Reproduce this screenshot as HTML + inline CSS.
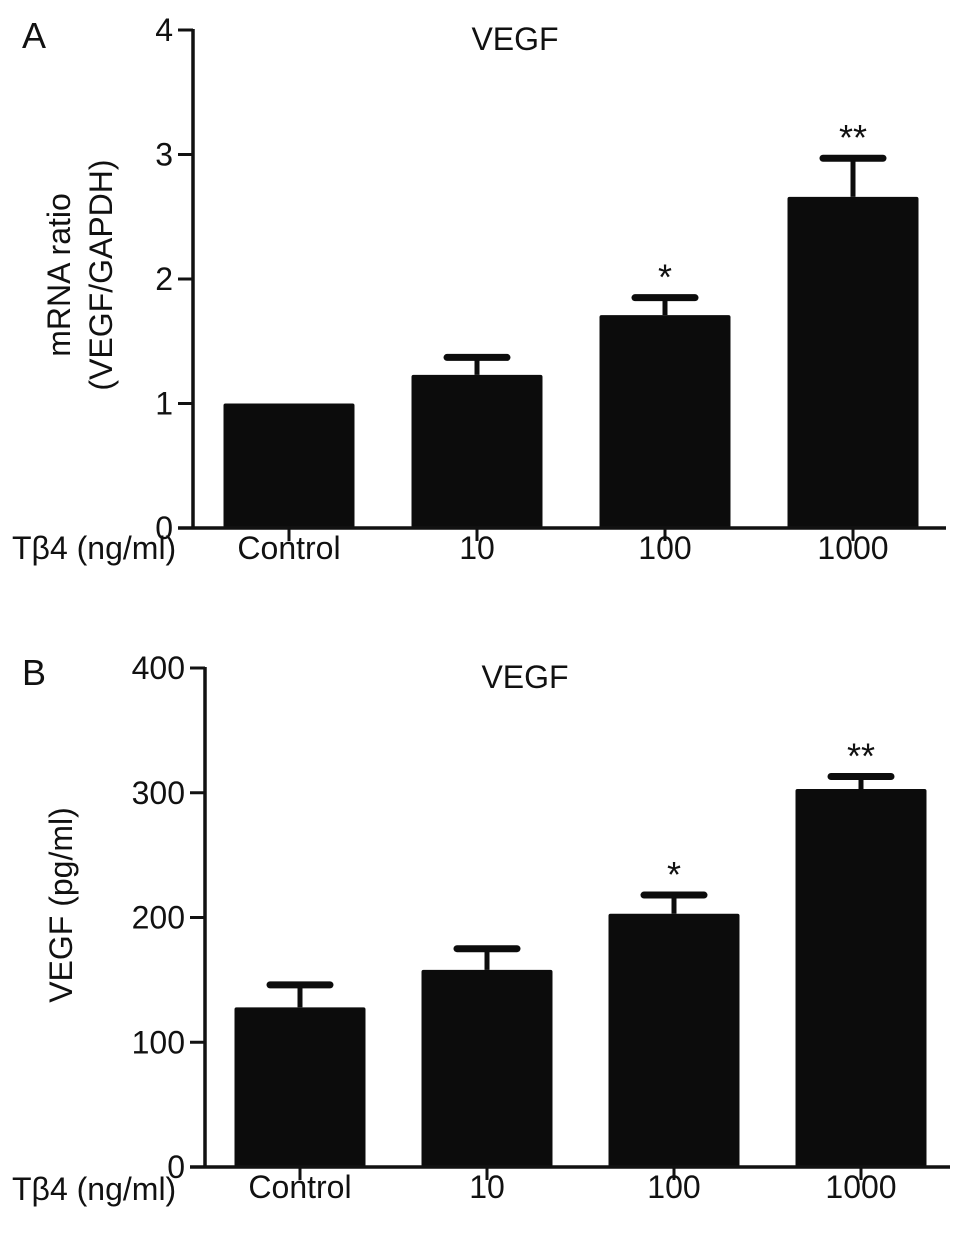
<!DOCTYPE html>
<html><head><meta charset="utf-8"><style>
html,body{margin:0;padding:0;background:#fff;}
svg text{font-family:"Liberation Sans",Arial,sans-serif;fill:#111;}
</style></head><body>
<svg id="fig" width="969" height="1239" viewBox="0 0 969 1239" xmlns="http://www.w3.org/2000/svg">
<text x="22" y="48" font-size="36">A</text>
<text x="22" y="685" font-size="36">B</text>
<text x="515" y="50" font-size="32" text-anchor="middle">VEGF</text>
<text x="525" y="688" font-size="32" text-anchor="middle">VEGF</text>
<text transform="translate(70,275) rotate(-90)" font-size="32" text-anchor="middle">mRNA ratio</text>
<text transform="translate(112,275) rotate(-90)" font-size="32" text-anchor="middle">(VEGF/GAPDH)</text>
<text transform="translate(72,905) rotate(-90)" font-size="32" text-anchor="middle">VEGF (pg/ml)</text>
<text x="12" y="559" font-size="32">Tβ4 (ng/ml)</text>
<text x="12" y="1200" font-size="32">Tβ4 (ng/ml)</text>
<g id="ga"></g><g id="gb"></g>
</svg>
<script>
const categories = ["Control","10","100","1000"];
const seriesA = [1.0, 1.23, 1.71, 2.66];
const errA = [0, 0.14, 0.14, 0.31];
const starsA = ["", "", "*", "**"];
const ticksA = [0,1,2,3,4];
const seriesB = [128, 158, 203, 303];
const errB = [18, 17, 15, 10];
const starsB = ["", "", "*", "**"];
const ticksB = [0,100,200,300,400];

const NS="http://www.w3.org/2000/svg";
function mk(g,tag,attrs){const e=document.createElementNS(NS,tag);for(const k in attrs)e.setAttribute(k,attrs[k]);g.appendChild(e);return e;}
function draw(gid,cfg,vals,errs,stars,ticks,p){
  const g=document.getElementById(gid);
  const y=v=>cfg.y0-(v-ticks[0])/(ticks[ticks.length-1]-ticks[0])*(cfg.y0-cfg.y1);
  const xc=i=>cfg.c0+i*cfg.step;
  vals.forEach((v,i)=>{
    const r=mk(g,'rect',{x:xc(i)-cfg.bw/2,y:y(v),width:cfg.bw,height:cfg.y0-y(v),fill:'#0c0c0c',rx:2});
    
    
    if(errs[i]>0){
      const l=mk(g,'line',{x1:xc(i),x2:xc(i),y1:y(v),y2:y(v+errs[i]),stroke:'#0c0c0c','stroke-width':5});
      
      
      const c=mk(g,'line',{x1:xc(i)-30,x2:xc(i)+30,y1:y(v+errs[i]),y2:y(v+errs[i]),stroke:'#0c0c0c','stroke-width':7,'stroke-linecap':'round'});
      
      
    }
    if(stars[i]){
      const s=mk(g,'text',{x:xc(i),y:y(v+errs[i])-8,'font-size':36,'text-anchor':'middle'});
      s.textContent=stars[i];
      
      
    }
    const t=mk(g,'line',{x1:xc(i),x2:xc(i),y1:cfg.y0,y2:cfg.y0+13,stroke:'#111','stroke-width':3});
    
    
    const lab=mk(g,'text',{x:xc(i),y:cfg.y0+31,'font-size':32,'text-anchor':'middle'});
    lab.textContent=categories[i];
    
    
  });
  const ya=mk(g,'line',{x1:cfg.ax,x2:cfg.ax,y1:cfg.y1-1,y2:cfg.y0+1,stroke:'#111','stroke-width':3.5});
  
  
  const xa=mk(g,'line',{x1:cfg.ax-15,x2:cfg.xend,y1:cfg.y0,y2:cfg.y0,stroke:'#111','stroke-width':3.5});
  
  
  ticks.forEach(tv=>{
    const t=mk(g,'line',{x1:cfg.ax-15,x2:cfg.ax,y1:y(tv),y2:y(tv),stroke:'#111','stroke-width':3});
    
    
    const l=mk(g,'text',{x:cfg.ax-20,y:y(tv)+11,'font-size':32,'text-anchor':'end'});
    l.textContent=tv;
    
    
  });
}
draw('ga',{ax:193,y0:528,y1:30,c0:289,step:188,bw:131,xend:946},seriesA,errA,starsA,ticksA,'a');
draw('gb',{ax:205,y0:1167,y1:668,c0:300,step:187,bw:131,xend:950},seriesB,errB,starsB,ticksB,'b');
</script>
</body></html>
